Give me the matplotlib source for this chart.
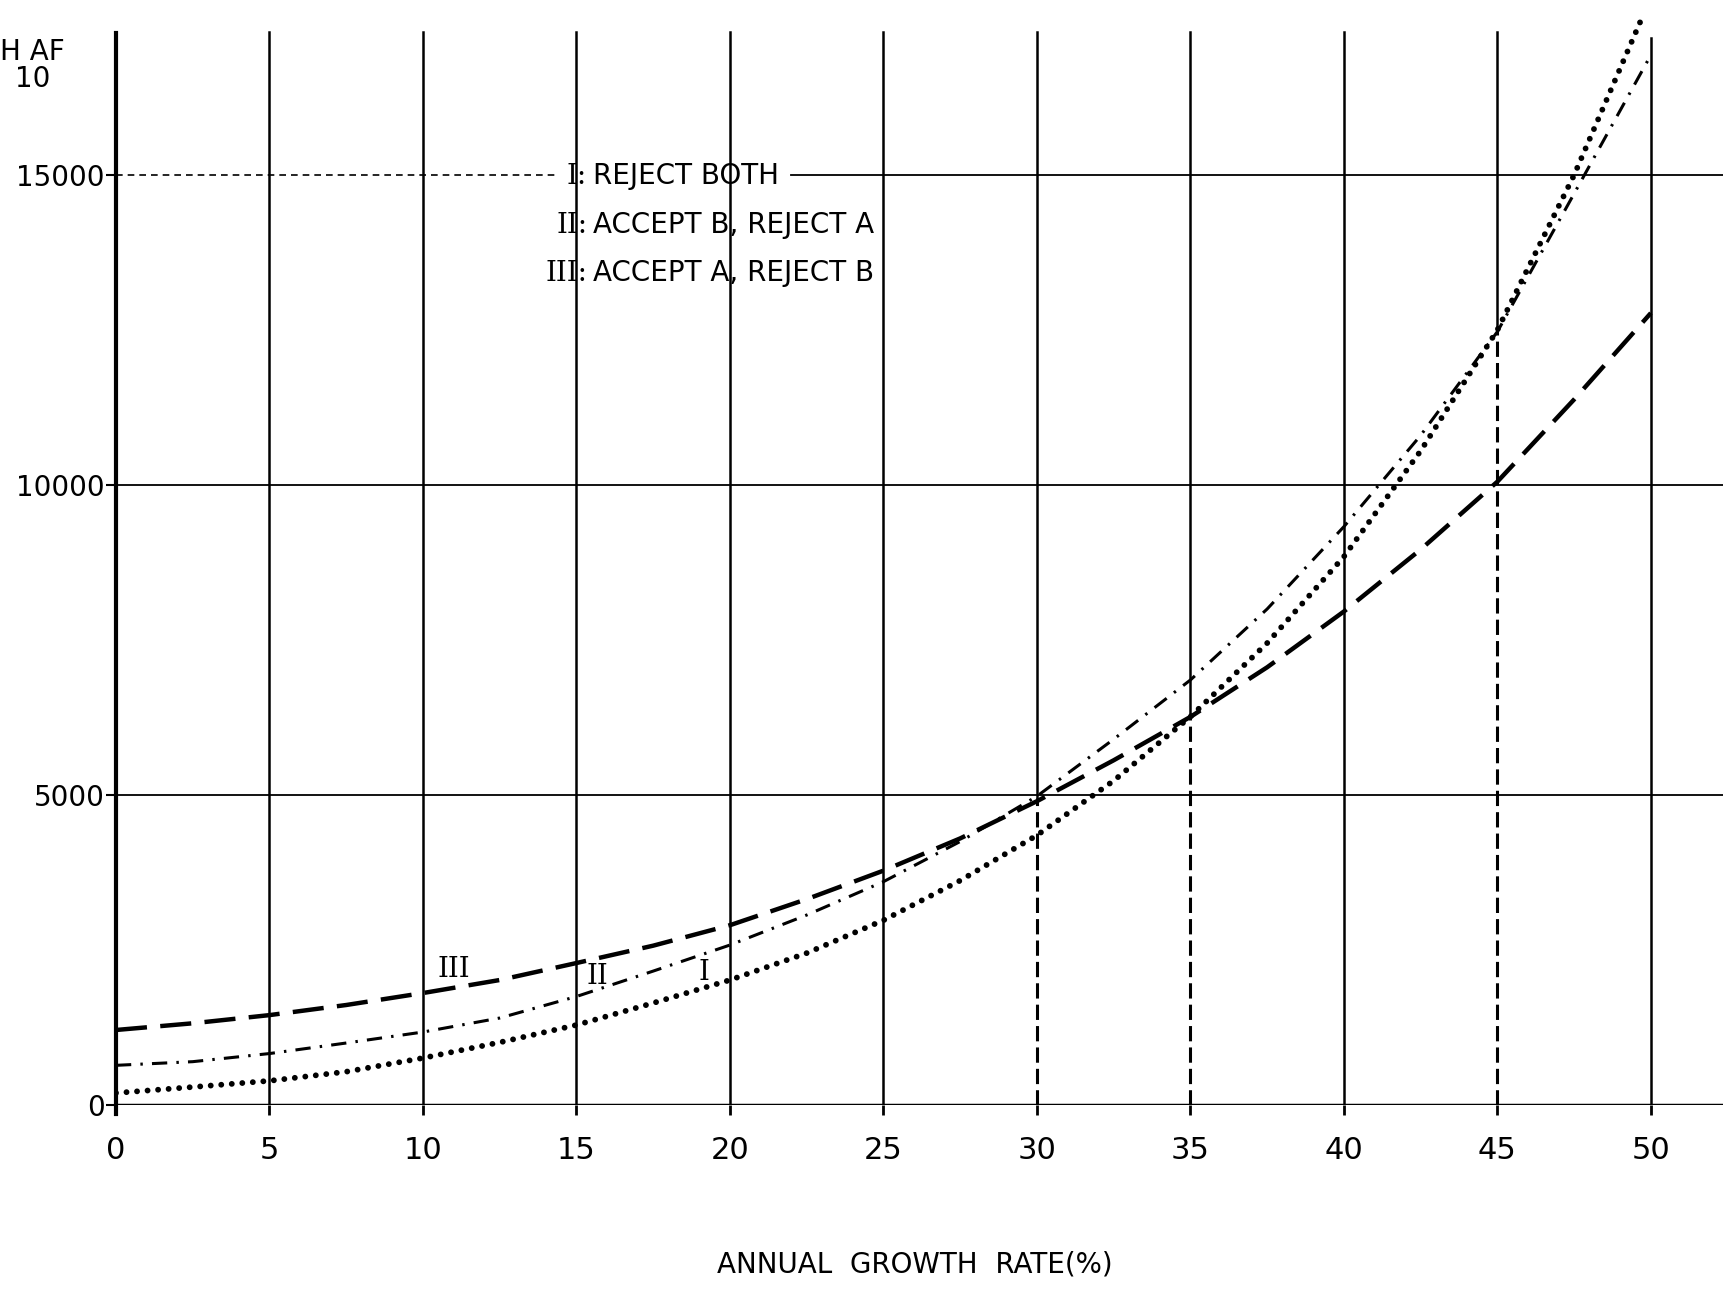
import numpy as np
import matplotlib.pyplot as plt

# growth rate (%) and the three cost curves
rate = [0, 2.5, 5, 7.5, 10, 12.5, 15, 17.5, 20, 22.5, 25,
        27.5, 30, 32.5, 35, 37.5, 40, 42.5, 45, 47.5, 50]
# curve I stops a little short of 50 on the sheet
rate_i = [0, 2.5, 5, 7.5, 10, 12.5, 15, 17.5, 20, 22.5, 25,
          27.5, 30, 32.5, 35, 37.5, 40, 42.5, 45, 47.5, 49.75]
reject_both = [194, 290, 390, 537, 758, 1010, 1290, 1645, 2016, 2450, 2980,
               3620, 4350, 5230, 6263, 7450, 8844, 10550, 12500, 15000, 17580]
accept_b = [640, 699, 830, 1000, 1177, 1403, 1750, 2160, 2580, 3064, 3602,
            4250, 4980, 5900, 6855, 8000, 9328, 10800, 12473, 14700, 16935]
accept_a = [1210, 1318, 1450, 1613, 1806, 2016, 2290, 2570, 2900, 3320, 3780,
            4300, 4900, 5560, 6260, 7060, 7960, 8960, 10054, 11380, 12774]

x_ticks = [0, 5, 10, 15, 20, 25, 30, 35, 40, 45, 50]
x_tick_labels = ['0', '5', '10', '15', '20', '25', '30', '35', '40', '45', '50']
y_ticks = [0, 5000, 10000, 15000]
y_tick_labels = ['0', '5000', '10000', '15000']

# crossover drop lines: x position and height where the line turns solid
drop_x = [30, 35, 45]
drop_y = [4950, 6260, 12500]

legend_lines = ['REJECT BOTH', 'ACCEPT B, REJECT A', 'ACCEPT A, REJECT B']
legend_marks = ['I:', 'II:', 'III:']

fig = plt.figure(figsize=(17.23, 12.9), dpi=100)
ax = fig.add_axes([0.0673, 0.1434, 1 - 0.0673, 1 - 0.1434])
ax.set_xlim(0, 52.35)
ax.set_ylim(0, 17823)
for s in ax.spines.values():
    s.set_visible(False)

# grid: vertical lines
for xv in x_ticks[1:]:
    if xv in drop_x:
        yv = drop_y[drop_x.index(xv)]
        ax.plot([xv, xv], [yv, 17300], color='black', lw=1.8)
        ax.plot([xv, xv], [0, yv], color='black', lw=2.2, linestyle=(0, (5, 2)))
    else:
        top = 17210 if xv == 50 else 17300
        ax.plot([xv, xv], [0, top], color='black', lw=1.8)
ax.plot([0, 0], [-150, 17290], color='black', lw=3, clip_on=False)

# grid: horizontal lines
ax.plot([0, 52.35], [0, 0], color='black', lw=2.5)
ax.plot([0, 52.35], [5000, 5000], color='black', lw=1.3)
ax.plot([0, 52.35], [10000, 10000], color='black', lw=1.3)
ax.plot([0, 14.4], [15000, 15000], color='black', lw=1.2, linestyle=(0, (4, 3)))
ax.plot([22.0, 52.35], [15000, 15000], color='black', lw=1.3)

# curves
ax.plot(rate_i, reject_both, color='black', lw=4.2, linestyle=(0, (0.01, 1.8)),
        dash_capstyle='round')
ax.plot(rate, accept_b, color='black', lw=2.2, linestyle=(0, (5, 3, 0.8, 3)))
ax.plot(rate, accept_a, color='black', lw=3.2, linestyle=(0, (7, 3)))

# curve labels
ax.text(11.0, 2190, 'III', family='DejaVu Serif', fontsize=20, ha='center', va='center')
ax.text(15.67, 2080, 'II', family='DejaVu Serif', fontsize=20, ha='center', va='center')
ax.text(19.15, 2145, 'I', family='DejaVu Serif', fontsize=20, ha='center', va='center')

# legend block
legend_y = [14984, 14193, 13419]
for mark, line, yv in zip(legend_marks, legend_lines, legend_y):
    ax.text(15.35, yv, mark, family='DejaVu Serif', fontsize=20, ha='right', va='center')
    ax.text(15.55, yv, line, fontsize=20, ha='left', va='center')

# ticks
ax.set_xticks(x_ticks)
ax.set_xticklabels(x_tick_labels, fontsize=22)
ax.set_yticks(y_ticks)
ax.set_yticklabels(y_tick_labels, fontsize=20)
ax.tick_params(axis='x', direction='out', length=7, width=2, pad=15)
ax.tick_params(axis='y', direction='out', length=7, width=1.5, pad=1)

fig.text(0.531, 0.02, 'ANNUAL  GROWTH  RATE(%)', fontsize=20, ha='center', va='center')
fig.text(0.0, 0.96, 'H AF', fontsize=20, ha='left', va='center')
fig.text(0.019, 0.939, '10', fontsize=20, ha='center', va='center')

fig.savefig('out.png', dpi=100)
